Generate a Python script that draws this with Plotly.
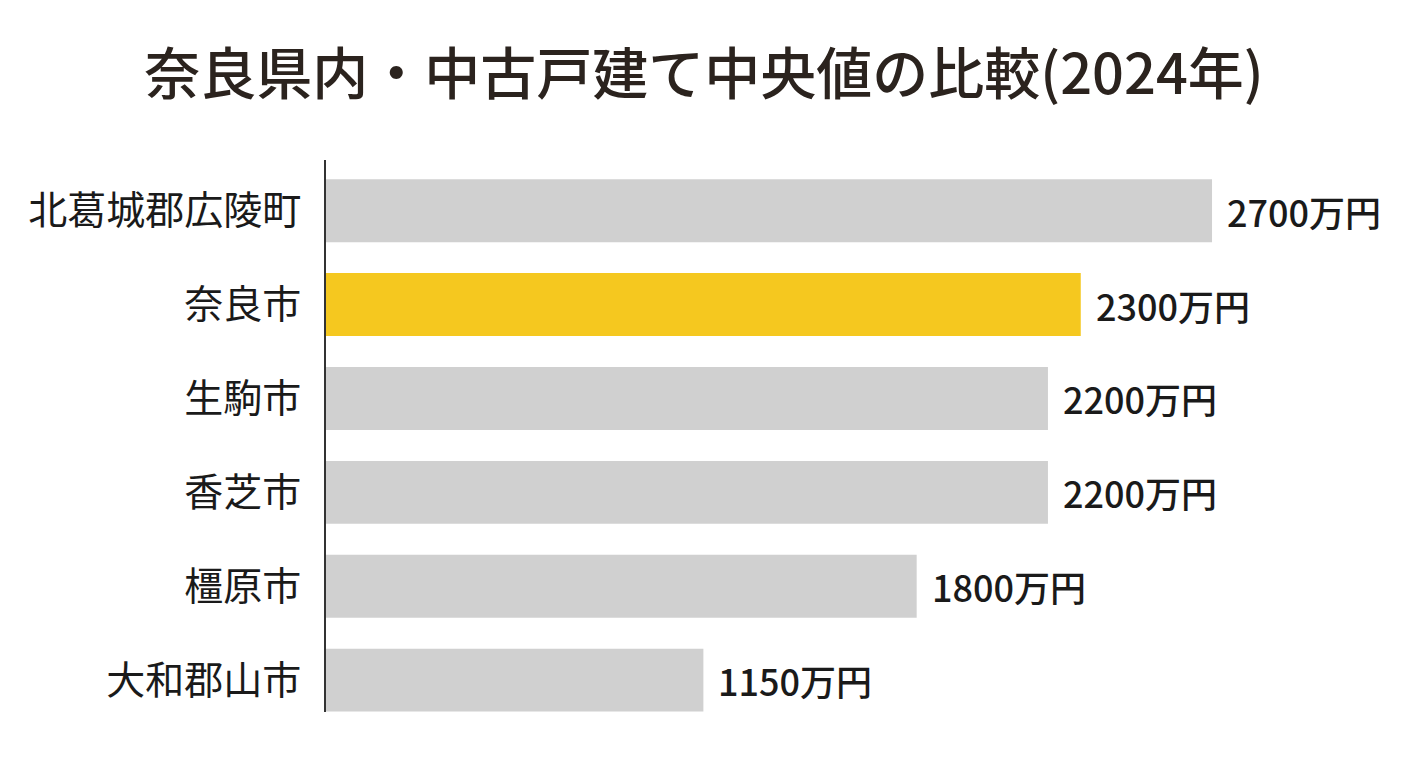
import plotly.graph_objects as go

categories = ["北葛城郡広陵町", "奈良市", "生駒市", "香芝市", "橿原市", "大和郡山市"]
values = [2700, 2300, 2200, 2200, 1800, 1150]
value_labels = ["2700万円", "2300万円", "2200万円", "2200万円", "1800万円", "1150万円"]
highlight = "奈良市"
title_text = "奈良県内・中古戸建て中央値の比較(2024年)"

GRAY = "#d0d0d0"
YELLOW = "#f5c81f"
FONT = "Noto Sans CJK JP"
TEXT = "#1a1a1a"

colors = [YELLOW if c == highlight else GRAY for c in categories]

fig = go.Figure(go.Bar(
    x=values,
    y=categories,
    orientation="h",
    marker=dict(color=colors, line=dict(width=0)),
    hoverinfo="skip",
))

for cat, val, lab in zip(categories, values, value_labels):
    fig.add_annotation(
        x=val, y=cat, text=lab, showarrow=False,
        xanchor="left", yanchor="middle", xshift=13,
        font=dict(family=FONT, size=36, color=TEXT, weight=500),
    )

# page body has an 8px margin, so the figure is sized 8px smaller
fig.update_layout(
    width=1400, height=760,
    paper_bgcolor="white", plot_bgcolor="white",
    margin=dict(l=318, r=4, t=152, b=56),
    bargap=0.33,
    showlegend=False,
    title=dict(
        text=title_text,
        x=696 / 1400, xanchor="center", xref="container",
        y=1 - 66 / 760, yanchor="middle", yref="container",
        font=dict(family=FONT, size=56, color="#2b231e", weight=500),
    ),
    font=dict(family=FONT),
)

fig.update_xaxes(
    range=[0, 3285], visible=False, showgrid=False, zeroline=False,
)
fig.update_yaxes(
    type="category",
    categoryorder="array", categoryarray=categories,
    range=[5.34, -0.54],
    showline=True, linecolor="#333333", linewidth=2,
    showgrid=False, zeroline=False,
    ticks="", ticklabelstandoff=15,
    tickfont=dict(family=FONT, size=39, color=TEXT, weight=400),
)

fig.write_html("out.html")
